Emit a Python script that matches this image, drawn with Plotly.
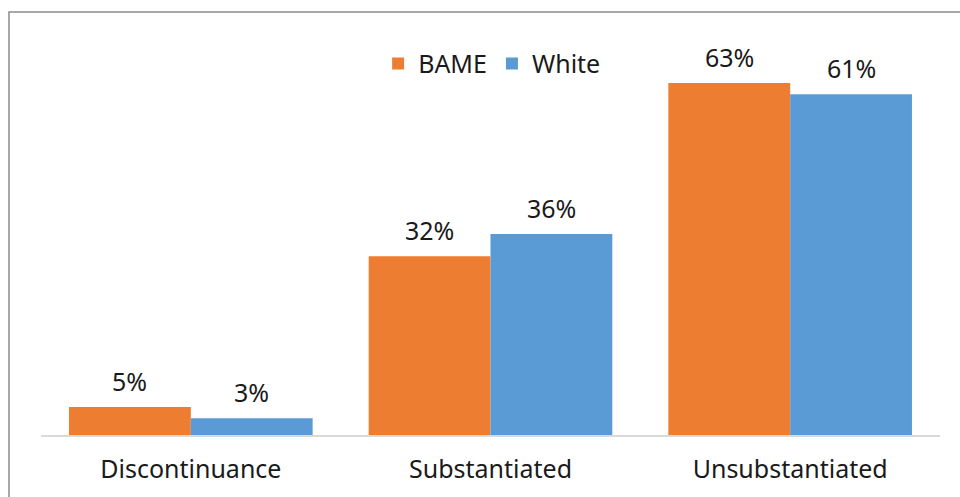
import plotly.graph_objects as go

categories = ["Discontinuance", "Substantiated", "Unsubstantiated"]
bame = [5, 32, 63]
white = [3, 36, 61]
series_names = ["BAME", "White"]
colors = ["#ED7D31", "#5B9BD5"]

FONT = "Noto Sans"
TEXT_COLOR = "#1a1a1a"
FS = 25

fig = go.Figure()
for name, vals, col in zip(series_names, [bame, white], colors):
    fig.add_trace(go.Bar(
        name=name, x=categories, y=vals, marker_color=col,
        marker_line_width=0, hoverinfo="skip",
    ))

# value labels above each bar
annotations = []
for vals, shift in [(bame, -61), (white, 61)]:
    for cat, v in zip(categories, vals):
        annotations.append(dict(
            x=cat, y=v, xref="x", yref="y", text=f"{v}%",
            showarrow=False, xshift=shift, yshift=26,
            font=dict(family=FONT, size=FS, color=TEXT_COLOR),
        ))

fig.update_layout(
    width=960, height=497,
    margin=dict(l=41, r=20, t=44, b=62),
    paper_bgcolor="white", plot_bgcolor="white",
    barmode="group", bargap=0.187, bargroupgap=0,
    font=dict(family=FONT, size=FS, color=TEXT_COLOR),
    showlegend=True,
    legend=dict(
        orientation="h", x=0.375, y=1.008, xanchor="left", yanchor="top",
        font=dict(family=FONT, size=FS, color=TEXT_COLOR),
        bgcolor="rgba(0,0,0,0)", itemwidth=30, tracegroupgap=0,
    ),
    xaxis=dict(
        showline=True, linecolor="#D9D9D9", linewidth=2,
        ticks="", tickfont=dict(family=FONT, size=FS, color=TEXT_COLOR),
        ticklabelstandoff=11,
        showgrid=False, fixedrange=True,
    ),
    yaxis=dict(
        range=[0, 70], visible=False, showgrid=False, zeroline=False,
        fixedrange=True,
    ),
    annotations=annotations,
    shapes=[dict(
        type="rect", xref="paper", yref="paper",
        x0=-0.0356, x1=1.2, y0=-0.3, y1=1.0818,
        line=dict(color="#8c8c8c", width=1.5), fillcolor="rgba(0,0,0,0)",
        layer="below",
    )],
)

fig.write_html("out.html")
